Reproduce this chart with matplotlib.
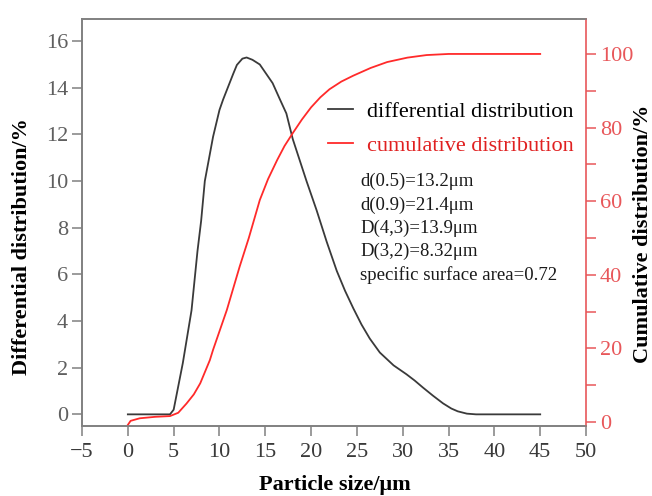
import numpy as np
import matplotlib
matplotlib.use("Agg")
import matplotlib.pyplot as plt

plt.rcParams['font.family'] = ['Liberation Serif', 'DejaVu Serif']

# differential distribution (left axis, %)
size_diff = [0, 4.6, 5.0, 6.0, 6.95, 7.6, 8.0, 8.4, 9.3, 10.0, 10.4, 10.8, 11.5, 11.9,
             12.5, 12.96, 13.6, 14.4, 15.1, 15.8, 16.6, 17.3, 18.0, 19.5, 20.6, 21.7,
             22.8, 23.7, 24.6, 25.5, 26.4, 27.5, 29.0, 30.4, 31.3, 32.2, 33.3, 34.4,
             35.3, 36.0, 37.0, 38.0, 45]
diff = [0, 0, 0.2, 2.2, 4.46, 7.0, 8.3, 10.0, 11.9, 13.05, 13.5, 13.9, 14.6, 14.98,
        15.25, 15.3, 15.2, 15.0, 14.6, 14.2, 13.5, 12.9, 11.8, 10.0, 8.75, 7.4,
        6.15, 5.3, 4.55, 3.85, 3.25, 2.65, 2.1, 1.72, 1.45, 1.15, 0.8, 0.47,
        0.25, 0.13, 0.03, 0, 0]

# cumulative distribution (right axis, %)
size_cum = [0, 0.3, 1.3, 3, 4.6, 5.5, 6.4, 7.2, 7.9, 8.95, 9.3, 10.8, 12.2, 13.2, 14.4,
            15.3, 16.3, 17.1, 18.0, 19.0, 20.0, 21.0, 22.0, 23.3, 24.6, 26.5, 28.3,
            30.5, 32.6, 35, 45]
cum = [-0.8, 0.3, 1.0, 1.4, 1.6, 2.5, 5.0, 7.5, 10.5, 16.8, 19.6, 30.4, 42.2, 50, 60.3,
       66.0, 71.2, 75.0, 78.5, 82.2, 85.5, 88.2, 90.4, 92.5, 94.1, 96.2, 97.8,
       99.0, 99.7, 100, 100]

stats = ["d(0.5)=13.2μm", "d(0.9)=21.4μm", "D(4,3)=13.9μm", "D(3,2)=8.32μm",
         "specific surface area=0.72"]

gray = '#808080'
red_ax = '#e8575a'
red_line = '#ff2a2a'

fig = plt.figure(figsize=(6.52, 4.96), dpi=100)
ax = fig.add_axes([0.1258, 0.1411, 0.773, 0.8206])
ax2 = ax.twinx()

l1, = ax.plot(size_diff, diff, color='#3a3a3a', lw=1.3, label='differential distribution')
l2, = ax2.plot(size_cum, cum, color=red_line, lw=1.3, label='cumulative distribution')

ax.set_xlim(-5, 50)
ax.set_ylim(-0.5, 16.95)
ax2.set_ylim(-1.1, 109.5)
ax.set_xticks(np.arange(-5, 51, 5))
ax.set_yticks(np.arange(0, 17, 2))
ax2.set_yticks(np.arange(0, 101, 20))
ax2.set_yticks(np.arange(10, 101, 20), minor=True)

for sp in ['left', 'top', 'bottom']:
    ax.spines[sp].set_color(gray)
    ax2.spines[sp].set_color(gray)
ax.spines['right'].set_visible(False)
ax2.spines['right'].set_color(red_ax)
for sp in list(ax.spines.values()) + list(ax2.spines.values()):
    sp.set_linewidth(1.2)

ax.tick_params(axis='both', direction='out', length=7, width=1.1, color=gray,
               labelcolor='#5f5f5f', labelsize=16, pad=3)
ax.tick_params(axis='x', labelcolor='#3a3a3a', pad=5)
ax2.tick_params(axis='y', which='both', direction='out', length=7, width=1.1,
                color=red_ax, labelcolor=red_ax, labelsize=16, pad=3)

ax.set_xlabel('Particle size/μm', fontsize=16, fontweight='bold')
ax.set_ylabel('Differential distribution/%', fontsize=16, fontweight='bold')
ax2.set_ylabel('Cumulative distribution/%', fontsize=16, fontweight='bold')
ax.xaxis.label.set_va('center')
ax.yaxis.label.set_va('center')
ax2.yaxis.label.set_va('center')
ax.xaxis.set_label_coords(0.502, -0.145)
ax.yaxis.set_label_coords(-0.119, 0.44)
ax2.yaxis.set_label_coords(1.113, 0.472)

leg = ax2.legend(handles=[l1, l2], loc='upper left', bbox_to_anchor=(0.488, 0.798),
                 frameon=False, fontsize=16, handlelength=1.13, handletextpad=0.63,
                 labelspacing=0.6, borderpad=0, borderaxespad=0)
for txt, c in zip(leg.get_texts(), ['black', '#e02020']):
    txt.set_color(c)

for i, s in enumerate(stats):
    ax.text(0.5516, 0.60 - i * 0.0571, s, transform=ax.transAxes, fontsize=13.5,
            color='#1a1a1a', va='center', ha='left')

fig.savefig('out.png', dpi=100)
